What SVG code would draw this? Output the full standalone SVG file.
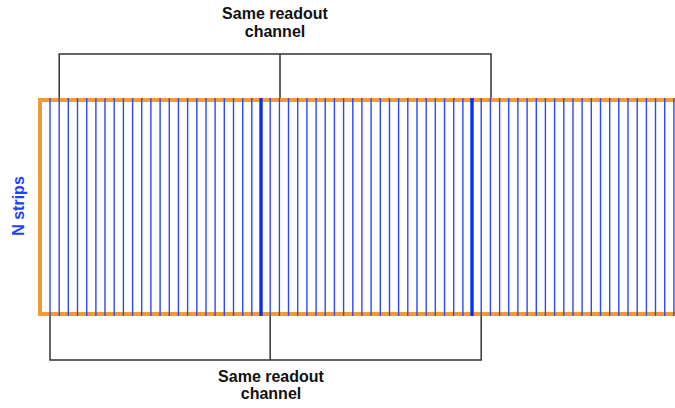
<svg xmlns="http://www.w3.org/2000/svg" width="675" height="408" viewBox="0 0 675 408">
  <style>
    .frame { fill: none; stroke: #f29b36; stroke-width: 4; stroke-linejoin: miter; }
    .strip { stroke: #2a48ff; stroke-width: 1.4; }
    .strip-wide { stroke: #0b2cff; stroke-width: 3.4; }
    .bracket { fill: none; stroke: #333333; stroke-width: 1.5; }
    .label { font-family: "Liberation Sans", Arial, sans-serif; font-weight: bold; font-size: 16px; text-anchor: middle; fill: #111111; }
    .side { font-family: "Liberation Sans", Arial, sans-serif; font-weight: bold; font-size: 16px; text-anchor: middle; fill: #1f3fff; }
  </style>
  <rect width="675" height="408" fill="#ffffff"/>

  <!-- detector outline -->
  <g id="detector">
    <path class="frame" d="M675,100 H40 V314 H675"/>
  </g>

  <!-- readout strips, pitch ~9.174 px -->
  <g id="strips">
    <line class="strip" x1="50.0" y1="98" x2="50.0" y2="316"/>
    <line class="strip" x1="59.2" y1="98" x2="59.2" y2="316"/>
    <line class="strip" x1="68.3" y1="98" x2="68.3" y2="316"/>
    <line class="strip" x1="77.5" y1="98" x2="77.5" y2="316"/>
    <line class="strip" x1="86.7" y1="98" x2="86.7" y2="316"/>
    <line class="strip" x1="95.9" y1="98" x2="95.9" y2="316"/>
    <line class="strip" x1="105.0" y1="98" x2="105.0" y2="316"/>
    <line class="strip" x1="114.2" y1="98" x2="114.2" y2="316"/>
    <line class="strip" x1="123.4" y1="98" x2="123.4" y2="316"/>
    <line class="strip" x1="132.6" y1="98" x2="132.6" y2="316"/>
    <line class="strip" x1="141.7" y1="98" x2="141.7" y2="316"/>
    <line class="strip" x1="150.9" y1="98" x2="150.9" y2="316"/>
    <line class="strip" x1="160.1" y1="98" x2="160.1" y2="316"/>
    <line class="strip" x1="169.3" y1="98" x2="169.3" y2="316"/>
    <line class="strip" x1="178.4" y1="98" x2="178.4" y2="316"/>
    <line class="strip" x1="187.6" y1="98" x2="187.6" y2="316"/>
    <line class="strip" x1="196.8" y1="98" x2="196.8" y2="316"/>
    <line class="strip" x1="206.0" y1="98" x2="206.0" y2="316"/>
    <line class="strip" x1="215.1" y1="98" x2="215.1" y2="316"/>
    <line class="strip" x1="224.3" y1="98" x2="224.3" y2="316"/>
    <line class="strip" x1="233.5" y1="98" x2="233.5" y2="316"/>
    <line class="strip" x1="242.7" y1="98" x2="242.7" y2="316"/>
    <line class="strip" x1="251.8" y1="98" x2="251.8" y2="316"/>
    <line class="strip-wide" x1="261.0" y1="98" x2="261.0" y2="316"/>
    <line class="strip" x1="270.2" y1="98" x2="270.2" y2="316"/>
    <line class="strip" x1="279.4" y1="98" x2="279.4" y2="316"/>
    <line class="strip" x1="288.5" y1="98" x2="288.5" y2="316"/>
    <line class="strip" x1="297.7" y1="98" x2="297.7" y2="316"/>
    <line class="strip" x1="306.9" y1="98" x2="306.9" y2="316"/>
    <line class="strip" x1="316.1" y1="98" x2="316.1" y2="316"/>
    <line class="strip" x1="325.2" y1="98" x2="325.2" y2="316"/>
    <line class="strip" x1="334.4" y1="98" x2="334.4" y2="316"/>
    <line class="strip" x1="343.6" y1="98" x2="343.6" y2="316"/>
    <line class="strip" x1="352.8" y1="98" x2="352.8" y2="316"/>
    <line class="strip" x1="361.9" y1="98" x2="361.9" y2="316"/>
    <line class="strip" x1="371.1" y1="98" x2="371.1" y2="316"/>
    <line class="strip" x1="380.3" y1="98" x2="380.3" y2="316"/>
    <line class="strip" x1="389.5" y1="98" x2="389.5" y2="316"/>
    <line class="strip" x1="398.6" y1="98" x2="398.6" y2="316"/>
    <line class="strip" x1="407.8" y1="98" x2="407.8" y2="316"/>
    <line class="strip" x1="417.0" y1="98" x2="417.0" y2="316"/>
    <line class="strip" x1="426.2" y1="98" x2="426.2" y2="316"/>
    <line class="strip" x1="435.3" y1="98" x2="435.3" y2="316"/>
    <line class="strip" x1="444.5" y1="98" x2="444.5" y2="316"/>
    <line class="strip" x1="453.7" y1="98" x2="453.7" y2="316"/>
    <line class="strip" x1="462.9" y1="98" x2="462.9" y2="316"/>
    <line class="strip-wide" x1="472.0" y1="98" x2="472.0" y2="316"/>
    <line class="strip" x1="481.2" y1="98" x2="481.2" y2="316"/>
    <line class="strip" x1="490.4" y1="98" x2="490.4" y2="316"/>
    <line class="strip" x1="499.6" y1="98" x2="499.6" y2="316"/>
    <line class="strip" x1="508.7" y1="98" x2="508.7" y2="316"/>
    <line class="strip" x1="517.9" y1="98" x2="517.9" y2="316"/>
    <line class="strip" x1="527.1" y1="98" x2="527.1" y2="316"/>
    <line class="strip" x1="536.3" y1="98" x2="536.3" y2="316"/>
    <line class="strip" x1="545.4" y1="98" x2="545.4" y2="316"/>
    <line class="strip" x1="554.6" y1="98" x2="554.6" y2="316"/>
    <line class="strip" x1="563.8" y1="98" x2="563.8" y2="316"/>
    <line class="strip" x1="573.0" y1="98" x2="573.0" y2="316"/>
    <line class="strip" x1="582.1" y1="98" x2="582.1" y2="316"/>
    <line class="strip" x1="591.3" y1="98" x2="591.3" y2="316"/>
    <line class="strip" x1="600.5" y1="98" x2="600.5" y2="316"/>
    <line class="strip" x1="609.7" y1="98" x2="609.7" y2="316"/>
    <line class="strip" x1="618.8" y1="98" x2="618.8" y2="316"/>
    <line class="strip" x1="628.0" y1="98" x2="628.0" y2="316"/>
    <line class="strip" x1="637.2" y1="98" x2="637.2" y2="316"/>
    <line class="strip" x1="646.4" y1="98" x2="646.4" y2="316"/>
    <line class="strip" x1="655.5" y1="98" x2="655.5" y2="316"/>
    <line class="strip" x1="664.7" y1="98" x2="664.7" y2="316"/>
    <line class="strip" x1="673.9" y1="98" x2="673.9" y2="316"/>
  </g>

  <!-- brackets joining strips that share a readout channel -->
  <g id="connectors">
    <path class="bracket" d="M59.2,98 V54 H491 V98"/>
    <line class="bracket" x1="280" y1="54" x2="280" y2="98"/>
    <path class="bracket" d="M50,316 V360 H481.2 V316"/>
    <line class="bracket" x1="270.2" y1="316" x2="270.2" y2="360"/>
  </g>

  <g id="label-top">
    <text class="label" x="275" y="19">Same readout</text>
    <text class="label" x="275" y="36.5">channel</text>
  </g>

  <g id="label-bottom">
    <text class="label" x="271" y="381.5">Same readout</text>
    <text class="label" x="271" y="399">channel</text>
  </g>

  <g id="label-side">
    <text class="side" transform="translate(23.5,206) rotate(-90)">N strips</text>
  </g>
</svg>
